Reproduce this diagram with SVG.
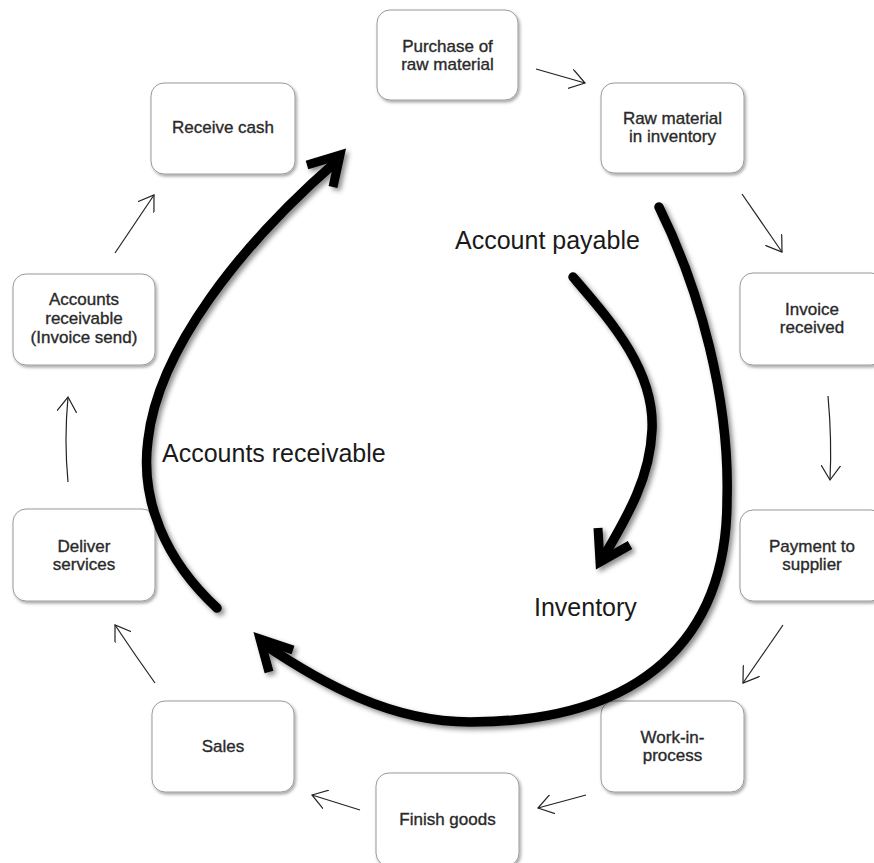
<svg xmlns="http://www.w3.org/2000/svg" width="874" height="863" viewBox="0 0 874 863">
<defs>
<filter id="bsh" x="-20%" y="-20%" width="140%" height="140%"><feDropShadow dx="1.5" dy="2" stdDeviation="1.5" flood-color="#000" flood-opacity="0.35"/></filter>
<filter id="ash" x="-20%" y="-20%" width="140%" height="140%"><feDropShadow dx="3" dy="3" stdDeviation="2.5" flood-color="#000" flood-opacity="0.45"/></filter>
<marker id="open" viewBox="0 0 20 20" refX="15" refY="10" markerWidth="20" markerHeight="20" markerUnits="userSpaceOnUse" orient="auto"><path d="M0,0 L15,10 L0,20" fill="none" stroke="#222" stroke-width="1.2"/></marker>
</defs>
<style>
.box{fill:#fff;stroke:#9a9a9a;stroke-width:1;filter:url(#bsh)}
.t{font-family:"Liberation Sans",Arial,sans-serif;font-size:17px;fill:#2a2a2a;stroke:#2a2a2a;stroke-width:0.35;text-anchor:middle}
.big{font-family:"Liberation Sans",Arial,sans-serif;font-size:25px;fill:#1a1a1a}
.thin{fill:none;stroke:#222;stroke-width:1.2;marker-end:url(#open)}
.fat{fill:none;stroke:#000;stroke-width:9.5;stroke-linecap:round}
.head{fill:none;stroke:#000;stroke-width:9;stroke-linejoin:miter;stroke-miterlimit:10;stroke-linecap:butt}
</style>
<rect width="874" height="863" fill="#fff"/>
<g id="n-purchase"><rect class="box" x="377" y="10" width="141" height="90" rx="13"/><text class="t" x="447.5" y="52">Purchase of</text><text class="t" x="447.5" y="70">raw material</text></g>
<g id="n-raw"><rect class="box" x="601" y="83" width="143" height="90" rx="13"/><text class="t" x="672.5" y="124">Raw material</text><text class="t" x="672.5" y="142">in inventory</text></g>
<g id="n-invoice"><rect class="box" x="740" y="273" width="144" height="92" rx="13"/><text class="t" x="812" y="315">Invoice</text><text class="t" x="812" y="333">received</text></g>
<g id="n-payment"><rect class="box" x="740" y="510" width="144" height="91" rx="13"/><text class="t" x="812" y="552">Payment to</text><text class="t" x="812" y="570">supplier</text></g>
<g id="n-wip"><rect class="box" x="601" y="701" width="143" height="91" rx="13"/><text class="t" x="672.5" y="743">Work-in-</text><text class="t" x="672.5" y="761">process</text></g>
<g id="n-finish"><rect class="box" x="376" y="773" width="143" height="93" rx="13"/><text class="t" x="447.5" y="825">Finish goods</text></g>
<g id="n-sales"><rect class="box" x="152" y="701" width="142" height="91" rx="13"/><text class="t" x="223" y="752">Sales</text></g>
<g id="n-deliver"><rect class="box" x="13" y="509" width="142" height="92" rx="13"/><text class="t" x="84" y="552">Deliver</text><text class="t" x="84" y="570">services</text></g>
<g id="n-accounts"><rect class="box" x="13" y="274" width="142" height="91" rx="13"/><text class="t" x="84" y="305">Accounts</text><text class="t" x="84" y="324">receivable</text><text class="t" x="84" y="343">(Invoice send)</text></g>
<g id="n-receive"><rect class="box" x="151" y="83" width="144" height="91" rx="13"/><text class="t" x="223" y="133">Receive cash</text></g>
<g id="connectors">
<path class="thin" d="M536,69 L585,83"/>
<path class="thin" d="M742,194 L782,252"/>
<path class="thin" d="M828,396 Q832,440 830,480"/>
<path class="thin" d="M783,625 L743,683"/>
<path class="thin" d="M586,795 L538,808"/>
<path class="thin" d="M360,810 L312,795"/>
<path class="thin" d="M155,683 Q135,655 115,625"/>
<path class="thin" d="M68,482 Q64,440 68,397"/>
<path class="thin" d="M115,253 L154,195"/>
<g filter="url(#ash)">
<path class="fat" d="M217,608 C165,560 140,500 148,440 C158,350 240,245 338,160"/>
<polyline class="head" points="307,165 340,155 333,187"/>
<path class="fat" d="M573,277 C610,320 655,370 652,430 C650,480 625,520 603,558"/>
<polyline class="head" points="598,528 600,562 630,545"/>
<path class="fat" d="M659,207 C700,290 730,400 727,500 C727,640 640,722 470,722 C390,722 320,682 265,645"/>
<polyline class="head" points="293,650 260,639 269,672"/>
</g>
</g>
<text class="big" x="455" y="249">Account payable</text>
<text class="big" x="162" y="462">Accounts receivable</text>
<text class="big" x="534" y="616">Inventory</text>
</svg>
